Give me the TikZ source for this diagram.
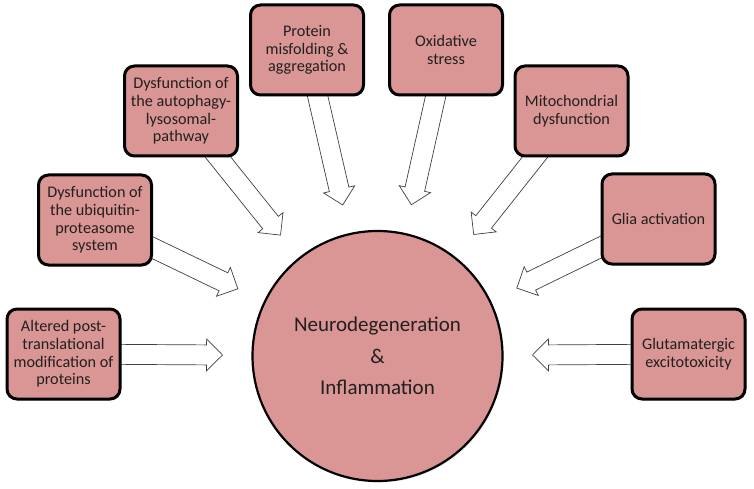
\documentclass[tikz,border=0pt]{standalone}
\usepackage{fontspec}
\setmainfont{Carlito}
\usetikzlibrary{calc,shadows}
\definecolor{boxfill}{HTML}{D99694}
\definecolor{txt}{HTML}{231F20}
\pgfdeclarelayer{bg}
\pgfsetlayers{bg,main}
\tikzset{
  causebox/.style={draw=black, line width=3pt, fill=boxfill, rounded corners=10pt,
    minimum width=113pt, minimum height=90pt, align=center, inner sep=2pt,
    font=\fontsize{16.2}{17.6}\selectfont, text=txt,
    drop shadow={opacity=0.18, shadow xshift=1.2pt, shadow yshift=-1.5pt}},
  hub/.style={circle, draw=black, line width=2.2pt, fill=boxfill, minimum size=250pt,
    align=center, font=\fontsize{21}{31.5}\selectfont, text=txt,
    drop shadow={opacity=0.18, shadow xshift=1.2pt, shadow yshift=-1.5pt}},
  blockarrow/.style={draw=black!75, line width=0.7pt, fill=white, line join=miter},
}
\newcommand\blockarr[1]{%
  \coordinate (t#1) at ($(hub)!155pt!(#1)$);
  \coordinate (h#1) at ($(t#1)!16pt!(#1)$);
  \filldraw[blockarrow] ($(#1)!10pt!90:(t#1)$) -- ($(h#1)!10pt!90:(t#1)$)
    -- ($(h#1)!16pt!90:(t#1)$) -- (t#1) -- ($(h#1)!16pt!-90:(t#1)$)
    -- ($(h#1)!10pt!-90:(t#1)$) -- ($(#1)!10pt!-90:(t#1)$) -- cycle;%
}
\begin{document}
\begin{tikzpicture}[x=1pt,y=-1pt]
\useasboundingbox (0,0) rectangle (754,489);
\node[hub] (hub) at (377.5,356) {Neurodegeneration\\\&\\Inflammation};
\node[causebox] (b1) at (63.5,354) {Altered post-\\translational\\modification of\\proteins};
\node[causebox] (b2) at (95,220) {Dysfunction of\\the ubiquitin-\\proteasome\\system};
\node[causebox] (b3) at (181,111) {Dysfunction of\\the autophagy-\\lysosomal-\\pathway};
\node[causebox] (b4) at (307,50) {Protein\\misfolding \&\\aggregation};
\node[causebox] (b5) at (446,50) {Oxidative\\stress};
\node[causebox] (b6) at (571.5,111) {Mitochondrial\\dysfunction};
\node[causebox] (b7) at (658.5,219) {Glia activation};
\node[causebox] (b8) at (688.5,354) {Glutamatergic\\excitotoxicity};
\begin{pgfonlayer}{bg}
\fill[white] (0,0) rectangle (754,489);
\blockarr{b1}
\blockarr{b2}
\blockarr{b3}
\blockarr{b4}
\blockarr{b5}
\blockarr{b6}
\blockarr{b7}
\blockarr{b8}
\end{pgfonlayer}
\end{tikzpicture}
\end{document}
